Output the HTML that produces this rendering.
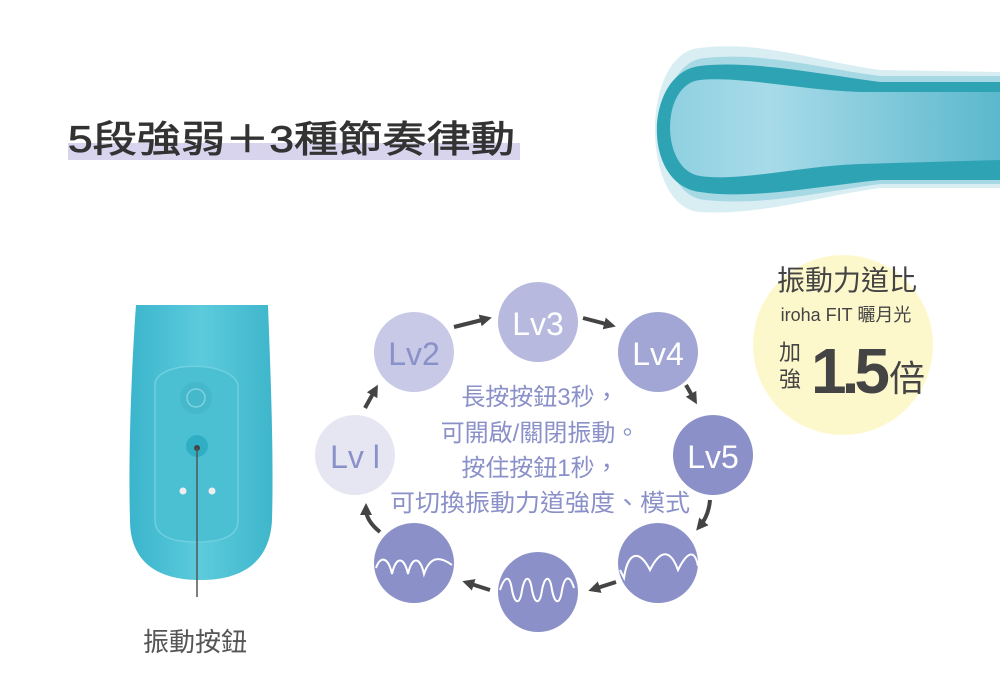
<!DOCTYPE html>
<html><head><meta charset="utf-8">
<style>
html,body{margin:0;padding:0;background:#fff;}
svg{display:block;}
text{font-family:"Liberation Sans","Noto Sans CJK TC",sans-serif;}
</style></head><body>
<svg width="1000" height="700" viewBox="0 0 1000 700" xmlns="http://www.w3.org/2000/svg">
<defs>
<linearGradient id="sp" x1="0" y1="0" x2="1" y2="0">
<stop offset="0" stop-color="#8fd0e0"/><stop offset="0.3" stop-color="#a8dbe9"/><stop offset="1" stop-color="#5bb8cc"/>
</linearGradient>
<linearGradient id="dev" x1="0" y1="0" x2="1" y2="0">
<stop offset="0" stop-color="#3bb5cc"/><stop offset="0.5" stop-color="#5ccbdc"/><stop offset="1" stop-color="#3fb6cb"/>
</linearGradient>
<marker id="ah" markerWidth="12" markerHeight="12" refX="6" refY="6" orient="auto" markerUnits="userSpaceOnUse"><path d="M0,0 L12,6 L0,12 Z" fill="#444"/></marker>
</defs>

<!-- title -->
<rect x="68" y="143" width="452" height="17" fill="#d9d4ee"/>
<text x="68" y="152" font-size="37" fill="#333" stroke="#333" stroke-width="0.8" textLength="447" lengthAdjust="spacingAndGlyphs">5段強弱＋3種節奏律動</text>

<!-- spoon -->
<path d="M700,48 C760,40 820,62 880,70 L1000,72 L1000,188 L880,188 C820,196 760,216 700,212 C640,208 640,52 700,48 Z" fill="#cfeaf0" opacity="0.8"/>
<path d="M705,58 C765,52 820,68 880,76 L1000,76 L1000,184 L880,184 C820,192 765,206 705,200 C650,195 650,62 705,58 Z" fill="#a6d9e4"/>
<path d="M700,66 C750,60 820,74 880,82 L1000,82 L1000,180 L880,180 C820,186 750,200 700,192 C640,184 645,72 700,66 Z" fill="#2ea3b3"/>
<path d="M700,80 C740,76 800,90 860,92 L1000,92 L1000,160 L860,164 C800,166 740,182 700,176 C660,170 660,84 700,80 Z" fill="url(#sp)"/>

<!-- device -->
<path d="M136,305 L268,305 C270,360 274,450 272,520 C270,560 245,580 200,580 C155,580 130,560 130,520 C128,450 132,360 136,305 Z" fill="url(#dev)"/>
<path d="M155,385 C155,360 232,360 238,385 L238,520 C238,535 225,542 196,542 C170,542 155,535 155,520 Z" fill="#4cc0d3" stroke="#6fd0de" stroke-width="1.5"/>
<circle cx="196" cy="398" r="16" fill="#45b8cc"/>
<circle cx="196" cy="398" r="9" fill="none" stroke="#7fd2de" stroke-width="1.5"/>
<circle cx="197" cy="446" r="11" fill="#2faec4"/>
<circle cx="197" cy="448" r="3" fill="#444"/>
<circle cx="183" cy="491" r="3.5" fill="#eee"/>
<circle cx="212" cy="491" r="3.5" fill="#eee"/>
<line x1="197" y1="448" x2="197" y2="597" stroke="#555" stroke-width="1.5"/>
<text x="195" y="651" font-size="26" fill="#555" text-anchor="middle">振動按鈕</text>

<!-- circles -->
<circle cx="355" cy="455" r="40" fill="#e6e6f3"/>
<text x="355" y="468" font-size="32" fill="#8a90c8" text-anchor="middle">Lv l</text>
<circle cx="414" cy="352" r="40" fill="#c8c9e6"/>
<text x="414" y="365" font-size="32" fill="#8a90c8" text-anchor="middle">Lv2</text>
<circle cx="538" cy="322" r="40" fill="#b7b9df"/>
<text x="538" y="335" font-size="32" fill="#fff" text-anchor="middle">Lv3</text>
<circle cx="658" cy="352" r="40" fill="#a1a6d4"/>
<text x="658" y="365" font-size="32" fill="#fff" text-anchor="middle">Lv4</text>
<circle cx="713" cy="455" r="40" fill="#8b91c8"/>
<text x="713" y="468" font-size="32" fill="#fff" text-anchor="middle">Lv5</text>
<circle cx="658" cy="563" r="40" fill="#8b91c8"/>
<circle cx="538" cy="592" r="40" fill="#8b91c8"/>
<circle cx="414" cy="563" r="40" fill="#8b91c8"/>
<!-- waves -->
<path d="M620,570 L624,578 C628,550 640,550 650,570 C660,550 670,548 678,570 C688,550 695,550 698,566" fill="none" stroke="#fff" stroke-width="2"/>
<path d="M500,590 C505,575 510,575 512,590 C515,605 520,605 522,590 C525,575 530,575 532,590 C535,605 540,605 542,590 C545,575 550,575 552,590 C555,605 560,605 562,590 C565,575 570,575 574,588" fill="none" stroke="#fff" stroke-width="2"/>
<path d="M376,568 C380,556 388,556 392,574 C396,556 404,556 408,574 C412,556 420,556 424,574 C430,556 440,556 452,565" fill="none" stroke="#fff" stroke-width="2"/>

<!-- arrows -->
<g stroke="#444" stroke-width="4" fill="none" marker-end="url(#ah)">
<line x1="454" y1="327" x2="486" y2="319"/>
<line x1="583" y1="318" x2="610" y2="325"/>
<line x1="686" y1="385" x2="694" y2="399"/>
<path d="M710,500 C709,512 705,520 700,526"/>
<line x1="616" y1="582" x2="594" y2="589"/>
<line x1="490" y1="590" x2="468" y2="583"/>
<path d="M380,532 C370,524 366,516 366,509"/>
<line x1="365" y1="408" x2="375" y2="390"/>
</g>

<!-- center text -->
<g font-size="24" fill="#8a90c8" text-anchor="middle">
<text x="540" y="405">長按按鈕3秒，</text>
<text x="540" y="441">可開啟/關閉振動。</text>
<text x="540" y="476">按住按鈕1秒，</text>
<text x="540" y="511" textLength="300" lengthAdjust="spacingAndGlyphs">可切換振動力道強度、模式</text>
</g>

<!-- yellow badge -->
<circle cx="843" cy="345" r="90" fill="#fdf8cc"/>
<text x="847" y="290" font-size="28" fill="#444" text-anchor="middle">振動力道比</text>
<text x="846" y="321" font-size="18" fill="#444" text-anchor="middle">iroha FIT 曬月光</text>
<text x="790" y="360" font-size="22" fill="#444" text-anchor="middle">加</text>
<text x="790" y="387" font-size="22" fill="#444" text-anchor="middle">強</text>
<text x="848" y="393" font-size="64" font-weight="bold" fill="#444" text-anchor="middle" letter-spacing="-5">1.5</text>
<text x="907" y="391" font-size="36" fill="#444" text-anchor="middle">倍</text>
</svg>
</body></html>
